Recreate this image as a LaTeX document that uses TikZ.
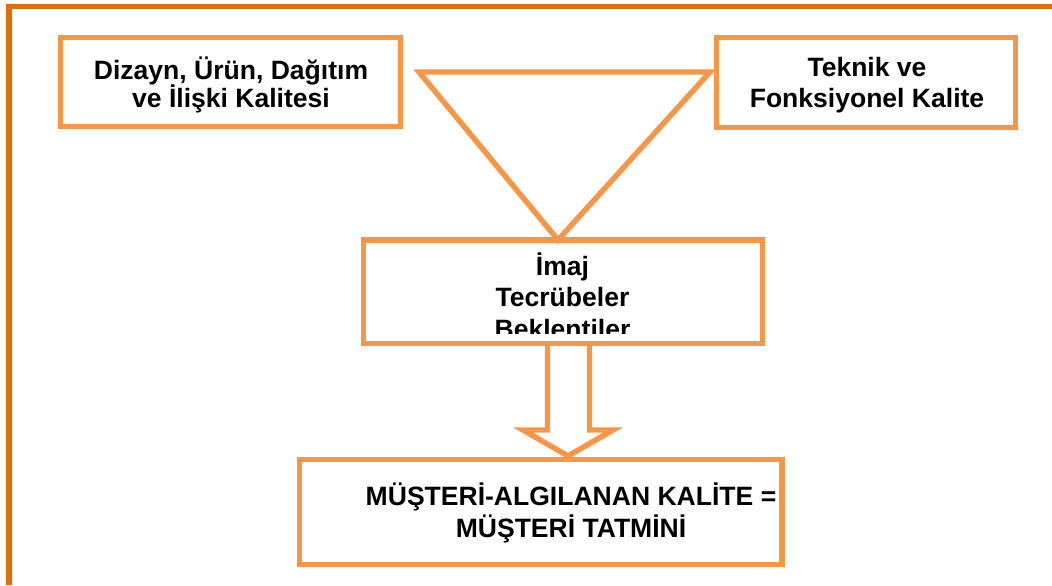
\documentclass[tikz,border=0pt]{standalone}
\usepackage{fontspec}
\setmainfont{Liberation Sans}
\begin{document}
\begin{tikzpicture}[x=0.75pt,y=-0.75pt,
  frameline/.style={draw=frameorange,line width=4.2pt},
  box/.style={draw=boxorange,line width=4.1pt,rectangle,inner sep=0pt},
  shapeline/.style={draw=boxorange,line width=4.1pt,line join=miter},
  label/.style={font=\fontsize{19.9}{22.5}\selectfont\bfseries,align=center,inner sep=0pt,anchor=base}]
\definecolor{frameorange}{HTML}{E36C09}
\definecolor{boxorange}{HTML}{F79646}
\useasboundingbox (0,0) rectangle (1052,585);

% outer frame: top and left edges only
\coordinate (fr1) at (9,585);
\coordinate (fr2) at (9,6.5);
\coordinate (fr3) at (1052,6.5);
\draw[frameline] (fr1) -- (fr2) -- (fr3);

% block arrow (drawn first so the box edges stay on top)
\coordinate (a1) at (547.5,343.5);
\coordinate (a2) at (547.5,430);
\coordinate (a3) at (523,430);
\coordinate (a4) at (568,456);
\coordinate (a5) at (613,430);
\coordinate (a6) at (589.5,430);
\coordinate (a7) at (589.5,343.5);
\draw[shapeline] (a1) -- (a2) -- (a3) -- (a4) -- (a5) -- (a6) -- (a7);

% funnel triangle
\coordinate (tl) at (419,72);
\coordinate (tr) at (710,72);
\coordinate (tip) at (558,240);
\draw[shapeline] (tl) -- (tr) -- (tip) -- cycle;

% boxes
\node[box,minimum width=340*0.75pt,minimum height=89*0.75pt] (qual) at (230.5,82) {};
\node[box,minimum width=299*0.75pt,minimum height=90*0.75pt] (tech) at (866,82.5) {};
\node[box,minimum width=399*0.75pt,minimum height=103.5*0.75pt] (img) at (563,291.75) {};
\node[box,minimum width=482.5*0.75pt,minimum height=105*0.75pt] (sat) at (540.75,512) {};

% texts (anchored at the baseline of the last line)
\node[label] (qualt) at (231,108) {Dizayn, Ürün, Dağıtım\\[-0.8pt]ve İlişki Kalitesi};
\node[label] (techt) at (867,107) {Teknik ve\\[0.5pt]Fonksiyonel Kalite};
\begin{scope}
  \clip (366,243) rectangle (760,333);
  \node[label] (imgt) at (562.5,338) {İmaj\\[1pt]Tecrübeler\\[1pt]Beklentiler};
\end{scope}
\node[label] (satt) at (571,537) {MÜŞTERİ-ALGILANAN KALİTE =\\[1.5pt]MÜŞTERİ TATMİNİ};
\end{tikzpicture}
\end{document}
